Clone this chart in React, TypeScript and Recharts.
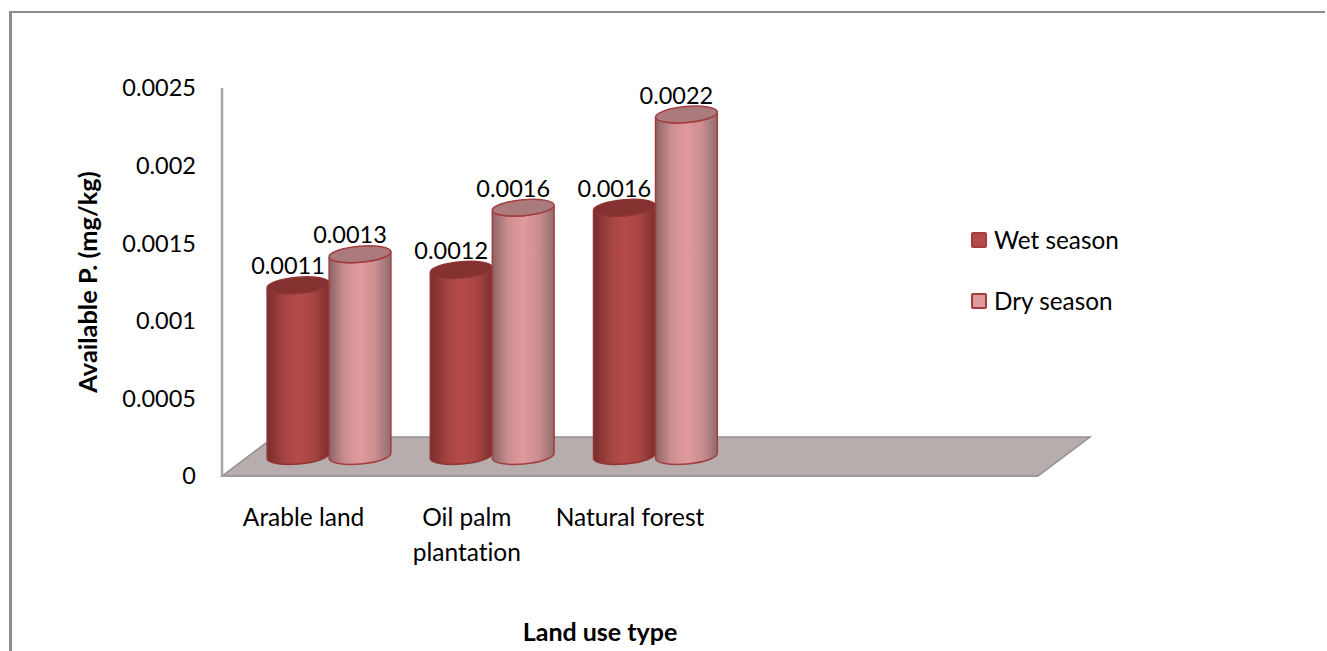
import {
  BarChart,
  Bar,
  XAxis,
  YAxis,
  Legend,
  LabelList,
  Label,
  usePlotArea,
} from 'recharts';

const CATEGORIES = ['Arable land', 'Oil palm plantation', 'Natural forest', '', ''];
const WET_SEASON = [0.0011, 0.0012, 0.0016, null, null];
const DRY_SEASON = [0.0013, 0.0016, 0.0022, null, null];
const Y_TICKS = [0, 0.0005, 0.001, 0.0015, 0.002, 0.0025];

const data = CATEGORIES.map((name, i) => ({
  name,
  wet: WET_SEASON[i],
  dry: DRY_SEASON[i],
}));

const FONT = 'Lato, sans-serif';
// how far the 3D box pushes things: floor depth and where the cylinders stand
const DEPTH_X = 52;
const DEPTH_Y = 39;
const SHIFT_X = 25;
const SHIFT_Y = 20;
const RY = 8;
const TILT = 5;

const SWATCH: Record<string, string> = {
  'Wet season': '#b34a47',
  'Dry season': '#dd9a9c',
};

// manual line breaks for the long category name
const TICK_LINES: Record<string, string[]> = {
  'Oil palm plantation': ['Oil palm', 'plantation'],
};

// gray floor of the 3D plot
const Floor = () => {
  const area = usePlotArea();
  if (!area) return null;
  const left = area.x;
  const right = area.x + area.width;
  const bottom = area.y + area.height;
  const points = [
    [left, bottom],
    [left + DEPTH_X, bottom - DEPTH_Y],
    [right + DEPTH_X, bottom - DEPTH_Y],
    [right, bottom],
  ]
    .map((p) => p.join(','))
    .join(' ');
  return (
    <g>
      <polygon points={points} fill="#b8adad" stroke="#949090" strokeWidth={1.5} />
      <line x1={left} y1={bottom} x2={right} y2={bottom} stroke="#9a9a9a" strokeWidth={2} />
    </g>
  );
};

const makeCylinder = (side: string, cap: string, edge: string) => (props: any) => {
  const { x, y, width, height } = props;
  if (!height) return null;
  const rx = width / 2;
  const cx = x + rx + SHIFT_X;
  const topY = y - SHIFT_Y;
  const botY = y + height - SHIFT_Y;
  const dx = rx * Math.cos((TILT * Math.PI) / 180);
  const dy = rx * Math.sin((TILT * Math.PI) / 180);
  const body =
    `M${cx - dx},${topY + dy} L${cx - dx},${botY + dy} ` +
    `A${rx},${RY} ${-TILT} 0 0 ${cx + dx},${botY - dy} ` +
    `L${cx + dx},${topY - dy} ` +
    `A${rx},${RY} ${-TILT} 0 1 ${cx - dx},${topY + dy} Z`;
  return (
    <g>
      <path d={body} fill={`url(#${side})`} stroke={edge} strokeWidth={1.5} />
      <ellipse
        cx={cx}
        cy={topY}
        rx={rx}
        ry={RY}
        fill={cap}
        stroke={edge}
        strokeWidth={1.5}
        transform={`rotate(${-TILT} ${cx} ${topY})`}
      />
    </g>
  );
};

const WetCylinder = makeCylinder('wetSide', '#83322f', '#8f3533');
const DryCylinder = makeCylinder('drySide', '#ab7a7c', '#a33c3e');

const renderValue = (props: any) => {
  const { x, y, width, value } = props;
  if (value == null) return null;
  return (
    <text
      x={x + width / 2 + SHIFT_X - 10}
      y={y - SHIFT_Y - 20}
      textAnchor="middle"
      dominantBaseline="central"
      fontFamily={FONT}
      fontSize={23.5}
      fill="#000"
    >
      {value}
    </text>
  );
};

const CategoryTick = (props: any) => {
  const { x, y, payload } = props;
  const lines = TICK_LINES[payload.value] ?? [payload.value];
  return (
    <text
      x={x}
      y={y + 42}
      textAnchor="middle"
      fontFamily={FONT}
      fontSize={24.5}
      fill="#000"
      style={{ fontVariantLigatures: 'none' }}
    >
      {lines.map((line, i) => (
        <tspan key={line} x={x} dy={i === 0 ? 0 : 35}>
          {line}
        </tspan>
      ))}
    </text>
  );
};

// Label's own position forces the text anchor, so the rotated title is drawn here
const renderYTitle = (props: any) => {
  const { viewBox } = props;
  const x = viewBox.x - 55;
  const y = viewBox.y + viewBox.height / 2;
  return (
    <text
      x={x}
      y={y}
      transform={`rotate(-90 ${x} ${y})`}
      textAnchor="middle"
      dominantBaseline="central"
      fontFamily={FONT}
      fontSize={25.4}
      fontWeight={700}
      fill="#000"
    >
      Available P. (mg/kg)
    </text>
  );
};

const renderLegend = (props: any) => (
  <div style={{ fontFamily: FONT, fontSize: 24.3, color: '#000' }}>
    {props.payload.map((entry: any) => (
      <div
        key={entry.value}
        style={{ display: 'flex', alignItems: 'center', height: 61 }}
      >
        <span
          style={{
            width: 12,
            height: 12,
            marginRight: 7,
            border: '2.5px solid #a33c3e',
            borderRadius: 2,
            background: SWATCH[entry.value],
          }}
        />
        {entry.value}
      </div>
    ))}
  </div>
);

const App = () => {
  return (
    <div
      style={{
        position: 'absolute',
        left: 0,
        top: 0,
        width: 1327,
        height: 651,
        background: '#fff',
        overflow: 'hidden',
      }}
    >
      {/* frame around the chart, cut off at the right and bottom */}
      <div
        style={{
          position: 'absolute',
          left: 9,
          top: 11,
          width: 1313,
          height: 640,
          borderLeft: '3px solid #8c8c8c',
          borderTop: '2px solid #8c8c8c',
        }}
      />
      <BarChart
        width={1327}
        height={651}
        data={data}
        barCategoryGap={20}
        barGap={0}
        margin={{ top: 88, right: 289, bottom: 15, left: 142 }}
        style={{ position: 'absolute', left: 0, top: 0 }}
      >
        <defs>
          <linearGradient id="wetSide" x1="0" y1="0" x2="1" y2="0">
            <stop offset="0" stopColor="#7a2e2c" />
            <stop offset="0.3" stopColor="#a84543" />
            <stop offset="0.5" stopColor="#b54b48" />
            <stop offset="0.75" stopColor="#a84543" />
            <stop offset="1" stopColor="#7d2f2d" />
          </linearGradient>
          <linearGradient id="drySide" x1="0" y1="0" x2="1" y2="0">
            <stop offset="0" stopColor="#8b6465" />
            <stop offset="0.25" stopColor="#cc8e90" />
            <stop offset="0.5" stopColor="#e09a9d" />
            <stop offset="0.75" stopColor="#cc8e90" />
            <stop offset="1" stopColor="#8f6d6e" />
          </linearGradient>
        </defs>
        <Floor />
        <XAxis
          dataKey="name"
          interval={0}
          height={160}
          axisLine={false}
          tickLine={false}
          tick={<CategoryTick />}
        >
          <Label
            value="Land use type"
            position="insideBottom"
            offset={-5}
            dx={-30}
            fontFamily={FONT}
            fontSize={25}
            fontWeight={700}
            fill="#000"
          />
        </XAxis>
        <YAxis
          width={80}
          domain={[0, 0.0025]}
          ticks={Y_TICKS}
          interval={0}
          axisLine={{ stroke: '#a6a6a6', strokeWidth: 2.5 }}
          tickLine={false}
          tickSize={0}
          tickMargin={26}
          tick={{ fontFamily: FONT, fontSize: 23.5, fill: '#000' }}
        >
          <Label content={renderYTitle} />
        </YAxis>
        <Legend
          layout="horizontal"
          verticalAlign="middle"
          align="center"
          itemSorter={null}
          content={renderLegend}
          wrapperStyle={{ position: 'absolute', left: 971, top: 209, width: 200 }}
        />
        <Bar dataKey="wet" name="Wet season" shape={WetCylinder} isAnimationActive={false}>
          <LabelList dataKey="wet" content={renderValue} />
        </Bar>
        <Bar dataKey="dry" name="Dry season" shape={DryCylinder} isAnimationActive={false}>
          <LabelList dataKey="dry" content={renderValue} />
        </Bar>
      </BarChart>
    </div>
  );
};

export default App;
